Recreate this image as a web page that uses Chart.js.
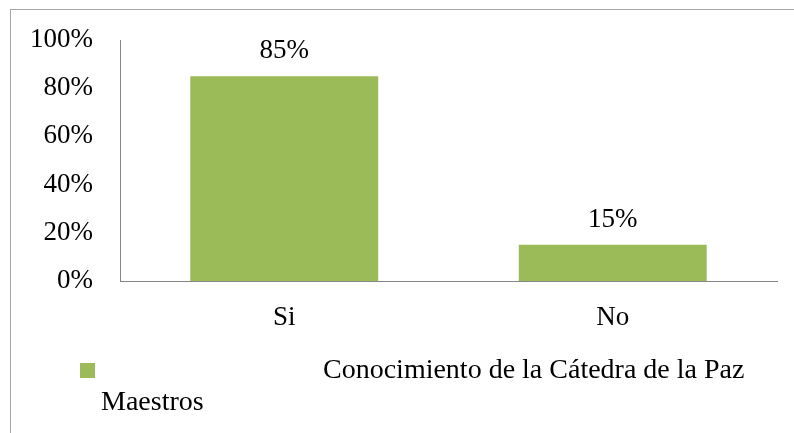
<!DOCTYPE html>
<html>
<head>
<meta charset="utf-8">
<script src="https://cdn.jsdelivr.net/npm/chart.js@4/dist/chart.umd.min.js"></script>
<style>
  html, body { margin: 0; padding: 0; background: #fff; overflow: hidden; }
  #wrap { position: absolute; left: 0; top: 0; width: 794px; height: 433px; }
  #frame { position: absolute; left: 10px; top: 9px; width: 800px; height: 440px; border: 1px solid #a6a6a6; box-sizing: border-box; pointer-events: none; }
</style>
</head>
<body>
<div id="wrap">
  <canvas id="c" width="794" height="433"></canvas>
  <div id="frame"></div>
</div>
<script>
const categories = ["Si", "No"];
const seriesLabel = "Conocimiento de la Cátedra de la Paz Maestros";
const seriesValues = [85, 15];
const yTicks = [0, 20, 40, 60, 80, 100];

const FONT = "'Liberation Serif', 'Times New Roman', serif";

const valueLabels = {
  id: 'valueLabels',
  afterDatasetsDraw(chart) {
    const ctx = chart.ctx;
    ctx.save();
    ctx.font = "27px " + FONT;
    ctx.fillStyle = "#000";
    ctx.textAlign = "center";
    ctx.textBaseline = "middle";
    chart.getDatasetMeta(0).data.forEach((bar, i) => {
      ctx.fillText(chart.data.datasets[0].data[i] + "%", bar.x, bar.y - 25);
    });
    ctx.restore();
  }
};

const customLegend = {
  id: 'customLegend',
  afterDraw(chart) {
    const ctx = chart.ctx;
    const ds = chart.data.datasets[0];
    ctx.save();
    ctx.fillStyle = ds.backgroundColor;
    ctx.fillRect(80, 363, 15, 15);
    ctx.font = "28px " + FONT;
    ctx.fillStyle = "#000";
    ctx.textAlign = "left";
    ctx.textBaseline = "middle";
    const words = ds.label.split(" ");
    const line1 = words.slice(0, words.length - 1).join(" ");
    const line2 = words[words.length - 1];
    ctx.fillText(line1, 323, 371);
    ctx.fillText(line2, 101, 403);
    ctx.restore();
  }
};

new Chart(document.getElementById('c'), {
  type: 'bar',
  data: {
    labels: categories,
    datasets: [{
      label: seriesLabel,
      data: seriesValues,
      backgroundColor: '#9BBB59',
      borderWidth: 0,
      categoryPercentage: 1.0,
      barPercentage: 0.572
    }]
  },
  options: {
    responsive: false,
    animation: false,
    layout: { padding: { left: 0, right: 17, top: 40, bottom: 0 } },
    plugins: {
      legend: { display: false },
      tooltip: { enabled: false }
    },
    scales: {
      y: {
        min: 0,
        max: 100,
        afterFit(scale) { scale.width = 120; scale.paddingTop = 0; scale.paddingBottom = 0; },
        afterBuildTicks(scale) { scale.ticks = yTicks.map(v => ({ value: v })); },
        grid: { display: false, drawTicks: false },
        border: { display: true, color: '#868686', width: 1 },
        ticks: {
          padding: 27,
          color: '#000',
          font: { family: FONT, size: 27 },
          callback: v => v + '%'
        }
      },
      x: {
        afterFit(scale) { scale.height = 152; scale.paddingLeft = 0; scale.paddingRight = 0; },
        grid: { display: false, drawTicks: false },
        border: { display: true, color: '#868686', width: 1 },
        ticks: {
          padding: 21,
          color: '#000',
          font: { family: FONT, size: 27 }
        }
      }
    }
  },
  plugins: [valueLabels, customLegend]
});
</script>
</body>
</html>
